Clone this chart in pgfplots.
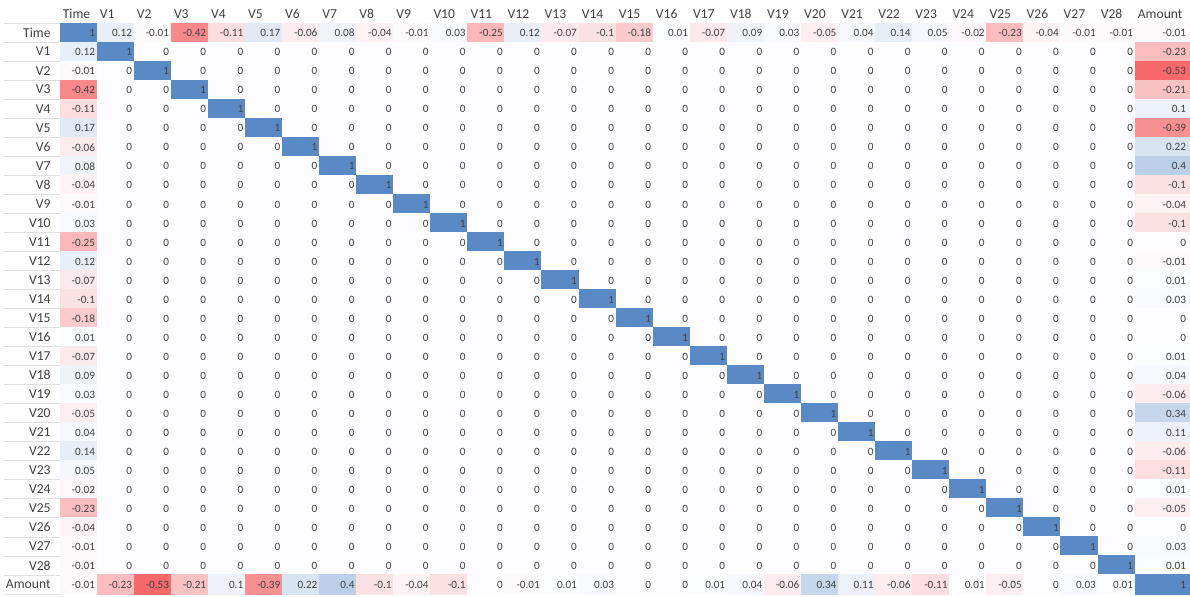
\documentclass[border=0pt]{standalone}
\usepackage{pgfplots}
\pgfplotsset{compat=1.18}
\usepackage{pgfplotstable}
\usepackage{fontspec}
\setmainfont{Carlito}
\definecolor{txt}{RGB}{64,64,64}

% correlation matrix: rows/cols Time, V1..V28, Amount
\pgfplotstableread{
c0 c1 c2 c3 c4 c5 c6 c7 c8 c9 c10 c11 c12 c13 c14 c15 c16 c17 c18 c19 c20 c21 c22 c23 c24 c25 c26 c27 c28 c29
1 0.12 -0.01 -0.42 -0.11 0.17 -0.06 0.08 -0.04 -0.01 0.03 -0.25 0.12 -0.07 -0.1 -0.18 0.01 -0.07 0.09 0.03 -0.05 0.04 0.14 0.05 -0.02 -0.23 -0.04 -0.01 -0.01 -0.01
0.12 1 0 0 0 0 0 0 0 0 0 0 0 0 0 0 0 0 0 0 0 0 0 0 0 0 0 0 0 -0.23
-0.01 0 1 0 0 0 0 0 0 0 0 0 0 0 0 0 0 0 0 0 0 0 0 0 0 0 0 0 0 -0.53
-0.42 0 0 1 0 0 0 0 0 0 0 0 0 0 0 0 0 0 0 0 0 0 0 0 0 0 0 0 0 -0.21
-0.11 0 0 0 1 0 0 0 0 0 0 0 0 0 0 0 0 0 0 0 0 0 0 0 0 0 0 0 0 0.1
0.17 0 0 0 0 1 0 0 0 0 0 0 0 0 0 0 0 0 0 0 0 0 0 0 0 0 0 0 0 -0.39
-0.06 0 0 0 0 0 1 0 0 0 0 0 0 0 0 0 0 0 0 0 0 0 0 0 0 0 0 0 0 0.22
0.08 0 0 0 0 0 0 1 0 0 0 0 0 0 0 0 0 0 0 0 0 0 0 0 0 0 0 0 0 0.4
-0.04 0 0 0 0 0 0 0 1 0 0 0 0 0 0 0 0 0 0 0 0 0 0 0 0 0 0 0 0 -0.1
-0.01 0 0 0 0 0 0 0 0 1 0 0 0 0 0 0 0 0 0 0 0 0 0 0 0 0 0 0 0 -0.04
0.03 0 0 0 0 0 0 0 0 0 1 0 0 0 0 0 0 0 0 0 0 0 0 0 0 0 0 0 0 -0.1
-0.25 0 0 0 0 0 0 0 0 0 0 1 0 0 0 0 0 0 0 0 0 0 0 0 0 0 0 0 0 0
0.12 0 0 0 0 0 0 0 0 0 0 0 1 0 0 0 0 0 0 0 0 0 0 0 0 0 0 0 0 -0.01
-0.07 0 0 0 0 0 0 0 0 0 0 0 0 1 0 0 0 0 0 0 0 0 0 0 0 0 0 0 0 0.01
-0.1 0 0 0 0 0 0 0 0 0 0 0 0 0 1 0 0 0 0 0 0 0 0 0 0 0 0 0 0 0.03
-0.18 0 0 0 0 0 0 0 0 0 0 0 0 0 0 1 0 0 0 0 0 0 0 0 0 0 0 0 0 0
0.01 0 0 0 0 0 0 0 0 0 0 0 0 0 0 0 1 0 0 0 0 0 0 0 0 0 0 0 0 0
-0.07 0 0 0 0 0 0 0 0 0 0 0 0 0 0 0 0 1 0 0 0 0 0 0 0 0 0 0 0 0.01
0.09 0 0 0 0 0 0 0 0 0 0 0 0 0 0 0 0 0 1 0 0 0 0 0 0 0 0 0 0 0.04
0.03 0 0 0 0 0 0 0 0 0 0 0 0 0 0 0 0 0 0 1 0 0 0 0 0 0 0 0 0 -0.06
-0.05 0 0 0 0 0 0 0 0 0 0 0 0 0 0 0 0 0 0 0 1 0 0 0 0 0 0 0 0 0.34
0.04 0 0 0 0 0 0 0 0 0 0 0 0 0 0 0 0 0 0 0 0 1 0 0 0 0 0 0 0 0.11
0.14 0 0 0 0 0 0 0 0 0 0 0 0 0 0 0 0 0 0 0 0 0 1 0 0 0 0 0 0 -0.06
0.05 0 0 0 0 0 0 0 0 0 0 0 0 0 0 0 0 0 0 0 0 0 0 1 0 0 0 0 0 -0.11
-0.02 0 0 0 0 0 0 0 0 0 0 0 0 0 0 0 0 0 0 0 0 0 0 0 1 0 0 0 0 0.01
-0.23 0 0 0 0 0 0 0 0 0 0 0 0 0 0 0 0 0 0 0 0 0 0 0 0 1 0 0 0 -0.05
-0.04 0 0 0 0 0 0 0 0 0 0 0 0 0 0 0 0 0 0 0 0 0 0 0 0 0 1 0 0 0
-0.01 0 0 0 0 0 0 0 0 0 0 0 0 0 0 0 0 0 0 0 0 0 0 0 0 0 0 1 0 0.03
-0.01 0 0 0 0 0 0 0 0 0 0 0 0 0 0 0 0 0 0 0 0 0 0 0 0 0 0 0 1 0.01
-0.01 -0.23 -0.53 -0.21 0.1 -0.39 0.22 0.4 -0.1 -0.04 -0.1 0 -0.01 0.01 0.03 0 0 0.01 0.04 -0.06 0.34 0.11 -0.06 -0.11 0.01 -0.05 0 0.03 0.01 1
}\corr

\pgfplotsset{
  cellfill/.style={scatter, only marks, mark=square*, mark size=4.8pt,
    scatter/use mapped color={draw=mapped color, fill=mapped color},
    point meta=explicit},
  cellnum/.style={draw=none, mark=none, point meta=explicit,
    nodes near coords={\pgfmathprintnumber[fixed,precision=2,assume math mode=true]{\pgfplotspointmeta}},
    nodes near coords align=center,
    every node near coord/.append style={anchor=east, inner sep=0pt, xshift=#1, yshift=-0.3pt, font=\fontsize{5.6}{6}\selectfont, text=txt}},
}

\begin{document}
\begin{tikzpicture}
\useasboundingbox (-30pt,-1pt) rectangle (565pt,297pt);
\begin{axis}[
  at={(0,0)}, anchor=south west,
  scale only axis, width=565pt, height=285.5pt,
  xmin=-0.5, xmax=29.982, ymin=-0.5, ymax=29.5, y dir=reverse,
  axis line style={draw=none}, major tick length=0pt,
  xtick={-0.5,0.5,...,28.5}, ytick={0,...,29},
  xticklabels={Time,V1,V2,V3,V4,V5,V6,V7,V8,V9,V10,V11,V12,V13,V14,V15,V16,V17,V18,V19,V20,V21,V22,V23,V24,V25,V26,V27,V28,Amount},
  yticklabels={Time,V1,V2,V3,V4,V5,V6,V7,V8,V9,V10,V11,V12,V13,V14,V15,V16,V17,V18,V19,V20,V21,V22,V23,V24,V25,V26,V27,V28,Amount},
  xticklabel pos=top,
  xticklabel style={anchor=west, inner sep=0pt, xshift=1.2pt, yshift=4.6pt},
  yticklabel style={anchor=east, inner sep=0pt, xshift=-4.5pt},
  tick label style={font=\fontsize{6.8}{7}\selectfont, text=txt},
  colormap={excel}{rgb255(0pt)=(248,105,107); rgb255(53pt)=(253,253,255); rgb255(153pt)=(90,138,198)},
  point meta min=-0.53, point meta max=1,
  clip=false,
]
% coloured cells
\pgfplotsinvokeforeach{0,...,28}{
  \addplot[cellfill, every mark/.append style={xscale=1.94}]
    table[x expr=#1, y expr=\coordindex, meta=c#1] {\corr};
}
\addplot[cellfill, every mark/.append style={xscale=2.87}]
  table[x expr=29.241, y expr=\coordindex, meta=c29] {\corr};
% cell values
\pgfplotsinvokeforeach{0,...,28}{
  \addplot[cellnum=8.4pt]
    table[x expr=#1, y expr=\coordindex, meta=c#1] {\corr};
}
\addplot[cellnum=11.9pt]
  table[x expr=29.241, y expr=\coordindex, meta=c29] {\corr};
\pgfplotsinvokeforeach{0,...,30}{
  \draw[black!12, line width=0.4pt] ([xshift=-28pt]axis cs:-0.5,#1-0.5) -- (axis cs:-0.5,#1-0.5);
}
\end{axis}
\end{tikzpicture}
\end{document}
